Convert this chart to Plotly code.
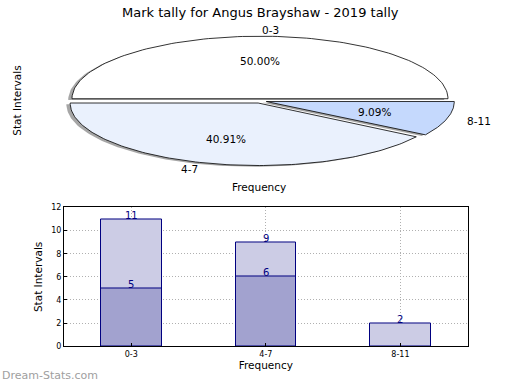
import numpy as np
import plotly.graph_objects as go

# ---- data ----
categories = ["0-3", "4-7", "8-11"]
totals = [11, 9, 2]          # light bars / pie values
inner = [5, 6, 0]            # dark overlaid bars
title = "Mark tally for Angus Brayshaw - 2019 tally"
axis_x_title = "Frequency"
axis_y_title = "Stat Intervals"
y_ticks = [0, 2, 4, 6, 8, 10, 12]

# ---- style ----
FONT = "DejaVu Sans"
pie_colors = ["#ffffff", "#eaf1fd", "#c5d9fd"]
explode = [0.035, 0.035, 0.035]
light_bar = "rgb(204,204,229)"
dark_bar = "rgb(162,162,207)"
edge = "#000080"

W, H = 520, 390
# pie geometry in pixels
cx_px, cy_px, rx_px, ry_px = 260.0, 99.2, 188.0, 64.0
py_top, py_bot = 15.0, 185.0

fig = go.Figure()

total = float(sum(totals))
fracs = [v / total for v in totals]
angles = np.concatenate([[0.0], np.cumsum(fracs) * 2 * np.pi])

shadow_traces = []
wedge_traces = []
annots = []
for i, cat in enumerate(categories):
    t1, t2 = angles[i], angles[i + 1]
    tm = 0.5 * (t1 + t2)
    dx = explode[i] * np.cos(tm)
    dy = explode[i] * np.sin(tm)
    th = np.linspace(t1, t2, 120)
    xs = np.concatenate([[dx], dx + np.cos(th), [dx]])
    ys = np.concatenate([[dy], dy + np.sin(th), [dy]])
    shadow_traces.append(go.Scatter(
        x=xs - 0.02, y=ys - 0.02, mode="lines", fill="toself",
        fillcolor="rgba(77,77,77,0.5)", line=dict(width=0),
        hoverinfo="skip", showlegend=False, xaxis="x2", yaxis="y2"))
    wedge_traces.append(go.Scatter(
        x=xs, y=ys, mode="lines", fill="toself",
        fillcolor=pie_colors[i], line=dict(color="black", width=0.8),
        name=cat, showlegend=False, xaxis="x2", yaxis="y2",
        hoverinfo="text", text=f"{cat}: {totals[i]}"))
    lx = dx + 1.1 * np.cos(tm)
    ly = dy + 1.1 * np.sin(tm)
    annots.append(dict(x=lx, y=ly, xref="x2", yref="y2", text=cat,
                       showarrow=False, xanchor="left" if lx > 0 else "right",
                       yanchor="middle", font=dict(family=FONT, size=10.5, color="black")))
    px = dx + 0.6 * np.cos(tm)
    py = dy + 0.6 * np.sin(tm)
    annots.append(dict(x=px, y=py, xref="x2", yref="y2",
                       text=f"{fracs[i]*100:.2f}%", showarrow=False,
                       xanchor="center", yanchor="middle",
                       font=dict(family=FONT, size=10.5, color="black")))

for t in shadow_traces + wedge_traces:
    fig.add_trace(t)

# ---- bars ----
fig.add_trace(go.Bar(x=categories, y=totals, width=0.45, marker=dict(
    color=light_bar, line=dict(color=edge, width=1)), showlegend=False,
    xaxis="x", yaxis="y"))
fig.add_trace(go.Bar(x=categories, y=[v if v else None for v in inner], width=0.45,
                     marker=dict(color=dark_bar, line=dict(color=edge, width=1)),
                     showlegend=False, xaxis="x", yaxis="y"))
for series in (totals, inner):
    for c, v in zip(categories, series):
        if v:
            annots.append(dict(x=c, y=v, xref="x", yref="y", text=str(v),
                               showarrow=False, yshift=4, yanchor="middle",
                               font=dict(family=FONT, size=10, color=edge)))

xr = cx_px / rx_px
y_hi = (cy_px - py_top) / ry_px
y_lo = -(py_bot - cy_px) / ry_px

annots += [
    dict(x=0.5, y=1 - 9 / H, xref="paper", yref="paper", text=title, showarrow=False,
         xanchor="center", yanchor="middle", font=dict(family=FONT, size=13, color="black")),
    dict(x=17 / W, y=1 - 99 / H, xref="paper", yref="paper", text=axis_y_title,
         showarrow=False, textangle=-90, xanchor="center", yanchor="middle",
         font=dict(family=FONT, size=10.5, color="black")),
    dict(x=259 / W, y=1 - 187 / H, xref="paper", yref="paper", text=axis_x_title,
         showarrow=False, xanchor="center", yanchor="middle",
         font=dict(family=FONT, size=10.5, color="black")),
    dict(x=0, y=1 - 380 / H, xref="paper", yref="paper", text="Dream-Stats.com",
         showarrow=False, xanchor="left", yanchor="middle",
         font=dict(family=FONT, size=11, color="#a0a0a0")),
]

grid = dict(showgrid=True, gridcolor="#b0b0b0", griddash="1px,2px", gridwidth=1)
fig.update_layout(
    width=W, height=H, margin=dict(l=0, r=0, t=0, b=0),
    paper_bgcolor="white", plot_bgcolor="white",
    barmode="overlay", bargap=0,
    font=dict(family=FONT, color="black"),
    annotations=annots,
    xaxis=dict(domain=[64 / W, 467.7 / W], range=[-0.5, 2.5], type="category",
               showline=True, linecolor="black", mirror=True, linewidth=1,
               ticks="inside", ticklen=3, tickcolor="black",
               tickfont=dict(family=FONT, size=8),
               title=dict(text=axis_x_title, font=dict(family=FONT, size=10.5), standoff=2),
               **grid),
    yaxis=dict(domain=[1 - 350.3 / H, 1 - 208.3 / H], range=[0, 12], tickvals=y_ticks,
               showline=True, linecolor="black", mirror=True, linewidth=1,
               ticks="inside", ticklen=3, tickcolor="black",
               tickfont=dict(family=FONT, size=8),
               title=dict(text=axis_y_title, font=dict(family=FONT, size=10.5), standoff=6),
               zeroline=False, **grid),
    xaxis2=dict(domain=[0, 1], range=[-xr, xr], visible=False, fixedrange=True),
    yaxis2=dict(domain=[1 - py_bot / H, 1 - py_top / H], range=[y_lo, y_hi],
                visible=False, fixedrange=True, anchor="x2"),
)

fig.write_html("out.html", config={"displayModeBar": False},
               post_script="document.body.style.margin='0px';")
